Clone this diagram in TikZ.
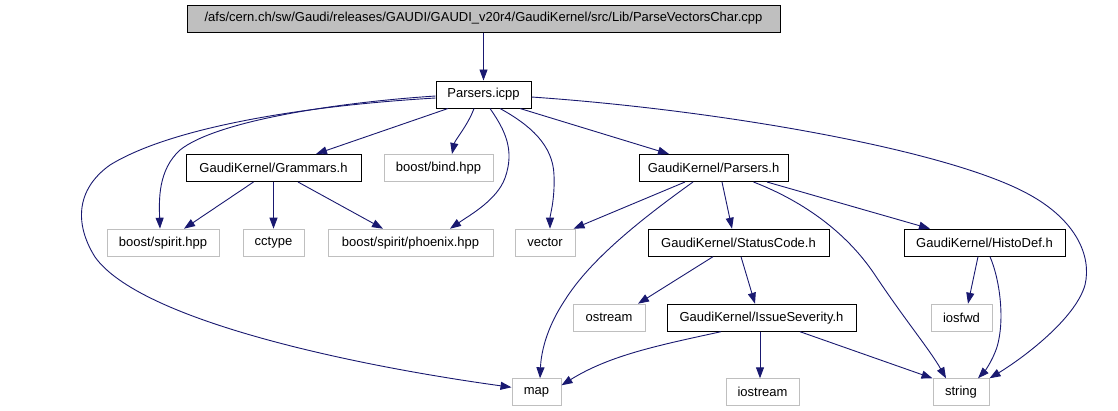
\documentclass[tikz,border=0pt]{standalone}
\usepackage{fontspec}
\setmainfont{Liberation Sans}
\usetikzlibrary{arrows.meta}
\definecolor{edgecol}{RGB}{25,25,112}
\definecolor{boxgrey}{RGB}{191,191,191}
\begin{document}
\begin{tikzpicture}[x=1pt,y=-1pt,
  box/.style={draw=black, line width=1pt, minimum height=27pt, inner xsep=4pt, inner ysep=0pt, font=\fontsize{13}{15}\selectfont, text=black},
  ext/.style={box, draw=boxgrey},
  rootbox/.style={box, fill=boxgrey},
  edge/.style={draw=edgecol, line width=0.9pt, -{Triangle[length=11pt,width=8pt]}}]
\useasboundingbox (0,0) rectangle (1118,410);
% nodes
\node[rootbox, minimum width=593pt] (root) at (483.5,18.5) {/afs/cern.ch/sw/Gaudi/releases/GAUDI/GAUDI\_v20r4/GaudiKernel/src/Lib/ParseVectorsChar.cpp};
\node[box, minimum width=95pt] (icpp) at (483.5,94.5) {Parsers.icpp};
\node[box, minimum width=175pt] (gram) at (273.5,168) {GaudiKernel/Grammars.h};
\node[ext, minimum width=109pt] (bind) at (438.5,168) {boost/bind.hpp};
\node[box, minimum width=149pt] (ph) at (713.5,168) {GaudiKernel/Parsers.h};
\node[ext, minimum width=112pt] (spirit) at (163,242.7) {boost/spirit.hpp};
\node[ext, minimum width=61pt] (cctype) at (273.5,242.7) {cctype};
\node[ext, minimum width=165pt] (phoenix) at (410.5,242.7) {boost/spirit/phoenix.hpp};
\node[ext, minimum width=60pt] (vector) at (545,242.7) {vector};
\node[box, minimum width=181pt] (sc) at (738.5,242.7) {GaudiKernel/StatusCode.h};
\node[box, minimum width=161pt] (hd) at (984.5,242.7) {GaudiKernel/HistoDef.h};
\node[ext, minimum width=72pt] (ostream) at (609,317.7) {ostream};
\node[box, minimum width=189pt] (is) at (761.5,317.7) {GaudiKernel/IssueSeverity.h};
\node[ext, minimum width=61pt] (iosfwd) at (961.5,317.7) {iosfwd};
\node[ext, minimum width=49pt] (map) at (536.5,392.3) {map};
\node[ext, minimum width=73pt] (iostream) at (762.5,392.3) {iostream};
\node[ext, minimum width=56pt] (string) at (961,392.3) {string};
% edges
\draw[edge] (root.south) -- (icpp.north);
\draw[edge] ([xshift=-35.5pt]icpp.south) -- ([xshift=42.5pt]gram.north);
\draw[edge] ([xshift=-9.5pt]icpp.south) .. controls (468,125) and (455,140) .. ([xshift=13.5pt]bind.north);
\draw[edge] ([xshift=6.5pt]icpp.south) .. controls (505,130) and (515,150) .. (505,178) .. controls (497,200) and (470,215) .. ([xshift=39.5pt]phoenix.north);
\draw[edge] ([xshift=16.5pt]icpp.south) .. controls (530,125) and (553,145) .. (554,175) .. controls (555,200) and (550,215) .. ([xshift=5pt]vector.north);
\draw[edge] ([xshift=36.5pt]icpp.south) -- ([xshift=-44.5pt]ph.north);
\draw[edge] ([yshift=-1.5pt]icpp.west) .. controls (330,103) and (215,122) .. (180,150) .. controls (158,170) and (159,200) .. ([xshift=-3pt]spirit.north);
\draw[edge] ([yshift=-3.5pt]icpp.west) .. controls (300,106) and (170,128) .. (110,165) .. controls (75,190) and (75,225) .. (95,257) .. controls (140,320) and (350,365) .. ([yshift=5pt]map.west);
\draw[edge] ([yshift=-2.5pt]icpp.east) .. controls (720,110) and (950,150) .. (1030,195) .. controls (1075,220) and (1092,255) .. (1085,285) .. controls (1075,320) and (1020,360) .. (string.north east);
\draw[edge] ([xshift=-20pt]gram.south) -- ([xshift=21pt]spirit.north);
\draw[edge] (gram.south) -- (cctype.north);
\draw[edge] ([xshift=24.5pt]gram.south) -- ([xshift=-27.5pt]phoenix.north);
\draw[edge] ([xshift=-28.5pt]ph.south) -- ([xshift=-2pt]vector.north east);
\draw[edge] ([xshift=-20.5pt]ph.south) .. controls (640,220) and (590,260) .. (565,300) .. controls (545,330) and (541,355) .. ([xshift=3.5pt]map.north);
\draw[edge] ([xshift=8.5pt]ph.south) -- ([xshift=-6.5pt]sc.north);
\draw[edge] ([xshift=40pt]ph.south) .. controls (800,200) and (845,230) .. (875,275) .. controls (905,320) and (930,350) .. ([xshift=-15pt]string.north);
\draw[edge] ([xshift=53.5pt]ph.south) -- ([xshift=-54.5pt]hd.north);
\draw[edge] ([xshift=-25.5pt]sc.south) -- ([xshift=29pt]ostream.north);
\draw[edge] ([xshift=2.5pt]sc.south) -- ([xshift=-6.5pt]is.north);
\draw[edge] ([xshift=-6.5pt]hd.south) -- ([xshift=6.5pt]iosfwd.north);
\draw[edge] ([xshift=5.5pt]hd.south) .. controls (1000,280) and (1005,320) .. (997,347) .. controls (992,362) and (984,372) .. ([xshift=17pt]string.north);
\draw[edge] ([xshift=-40.5pt]is.south) .. controls (660,345) and (610,355) .. ([yshift=7pt]map.east);
\draw[edge] ([xshift=-1.5pt]is.south) -- ([xshift=-2.5pt]iostream.north);
\draw[edge] ([xshift=38.5pt]is.south) -- (string.north west);
\end{tikzpicture}
\end{document}
